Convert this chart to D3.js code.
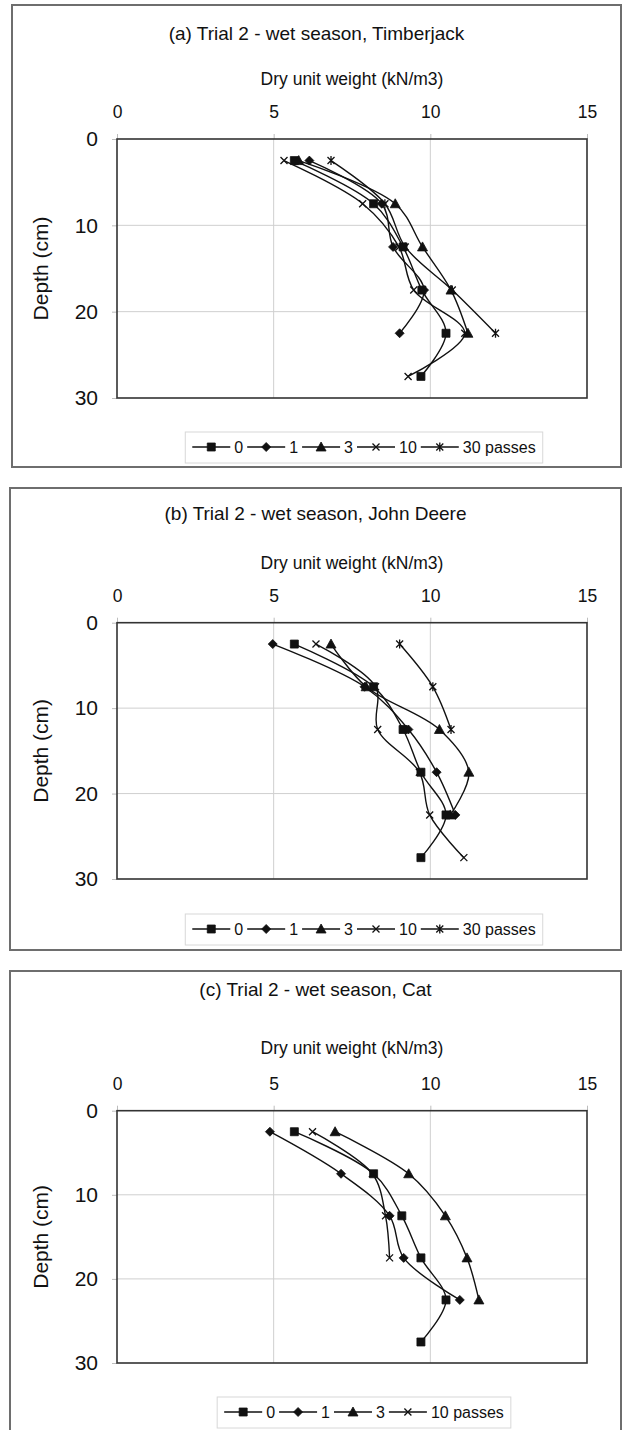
<!DOCTYPE html>
<html>
<head>
<meta charset="utf-8">
<script src="https://cdn.jsdelivr.net/npm/d3@7"></script>
<style>
  body { margin: 0; background: #fff; }
  svg { display: block; }
  text { font-family: "Liberation Sans", Arial, sans-serif; fill: #111; }
</style>
</head>
<body>
<svg id="chart" width="623" height="1430"></svg>
<script>
// depths of the sampled layers (cm)
var depthCm = [2.5, 7.5, 12.5, 17.5, 22.5, 27.5];
var xTicks = [0, 5, 10, 15];
var yTicks = [0, 10, 20, 30];
var passLabels = ["0", "1", "3", "10", "30"];

// (a) Timberjack - dry unit weight (kN/m3) per depth
var tj0  = [5.66, 8.19, 9.13, 9.73, 10.5, 9.7];
var tj1  = [6.14, 8.45, 8.81, 9.8, 9.02];
var tj3  = [5.8, 8.88, 9.75, 10.66, 11.2];
var tj10 = [5.33, 7.84, 9.0, 9.47, 11.1, 9.29];
var tj30 = [6.83, 8.55, 9.2, 10.7, 12.08];

// (b) John Deere
var jd0  = [5.66, 8.19, 9.13, 9.7, 10.5, 9.7];
var jd1  = [4.97, 7.9, 9.3, 10.2, 10.8];
var jd3  = [6.83, 7.95, 10.29, 11.23, 10.64];
var jd10 = [6.35, 8.25, 8.32, 9.65, 9.98, 11.07];
var jd30 = [9.02, 10.08, 10.66];

// (c) Cat
var cat0  = [5.66, 8.19, 9.09, 9.7, 10.5, 9.7];
var cat1  = [4.88, 7.15, 8.7, 9.15, 10.94];
var cat3  = [6.96, 9.31, 10.48, 11.17, 11.55];
var cat10 = [6.24, 8.15, 8.57, 8.7];

var panels = [
    {title: "(a) Trial 2 - wet season, Timberjack", series: [tj0, tj1, tj3, tj10, tj30],
     box: [12, 5, 609, 462], plot: [139, 398], titleY: 33, axisTitleY: 79, legendY: 447},
    {title: "(b) Trial 2 - wet season, John Deere", series: [jd0, jd1, jd3, jd10, jd30],
     box: [10, 488, 611, 462], plot: [622.7, 879], titleY: 513, axisTitleY: 563, legendY: 929},
    {title: "(c) Trial 2 - wet season, Cat", series: [cat0, cat1, cat3, cat10],
     box: [10, 971, 611, 475], plot: [1110.7, 1363], titleY: 989, axisTitleY: 1048, legendY: 1412}
];

var plotLeft = 117, plotRight = 587;

// marker shapes, one per number of passes
function markerPath(i) {
    switch (i) {
        case 0: return "M-4,-4H4V4H-4Z";
        case 1: return "M0,-4.5L4.5,0L0,4.5L-4.5,0Z";
        case 2: return "M0,-5L5,4L-5,4Z";
        case 3: return "M-3.5,-3.5L3.5,3.5M-3.5,3.5L3.5,-3.5";
        case 4: return "M-3.5,-3.5L3.5,3.5M-3.5,3.5L3.5,-3.5M0,-4.5V4.5";
    }
}
function drawMarker(g, i, cx, cy) {
    var filled = i < 3;
    g.append("path")
        .attr("d", markerPath(i))
        .attr("transform", "translate(" + cx + "," + cy + ")")
        .attr("fill", filled ? "#111" : "none")
        .attr("stroke", "#111")
        .attr("stroke-width", filled ? 0.8 : 1.3);
}

var svg = d3.select("#chart");

panels.forEach(function (p) {
    var g = svg.append("g");

    g.append("rect")
        .attr("x", p.box[0]).attr("y", p.box[1])
        .attr("width", p.box[2]).attr("height", p.box[3])
        .attr("fill", "#fff")
        .attr("stroke", "#6e6e6e")
        .attr("stroke-width", 2);

    var x = d3.scaleLinear().domain([0, 15]).range([plotLeft, plotRight]);
    var y = d3.scaleLinear().domain([0, 30]).range([p.plot[0], p.plot[1]]);

    // gridlines
    g.selectAll(".vgrid").data(xTicks.slice(1, -1)).enter().append("line")
        .attr("x1", function (d) { return x(d); }).attr("x2", function (d) { return x(d); })
        .attr("y1", y(0)).attr("y2", y(30))
        .attr("stroke", "#cfcfcf").attr("stroke-width", 1);
    g.selectAll(".hgrid").data(yTicks.slice(1, -1)).enter().append("line")
        .attr("x1", x(0)).attr("x2", x(15))
        .attr("y1", function (d) { return y(d); }).attr("y2", function (d) { return y(d); })
        .attr("stroke", "#cfcfcf").attr("stroke-width", 1);

    // axes
    var xAxis = g.append("g")
        .attr("transform", "translate(0," + y(0) + ")")
        .call(d3.axisTop(x).tickValues(xTicks).tickSize(5).tickPadding(16).tickSizeOuter(0));
    var yAxis = g.append("g")
        .attr("transform", "translate(" + x(0) + ",0)")
        .call(d3.axisLeft(y).tickValues(yTicks).tickSize(5).tickPadding(14).tickSizeOuter(0));
    [xAxis, yAxis].forEach(function (a) {
        a.select(".domain").remove();
        a.selectAll(".tick line").attr("stroke", "#bdbdbd");
        a.selectAll(".tick text").attr("fill", "#111");
    });
    xAxis.selectAll(".tick text").attr("font-size", "17.5px");
    yAxis.selectAll(".tick text").attr("font-size", "21px");

    g.append("rect")
        .attr("x", x(0)).attr("y", y(0))
        .attr("width", x(15) - x(0)).attr("height", y(30) - y(0))
        .attr("fill", "none")
        .attr("stroke", "#333")
        .attr("stroke-width", 1.6);

    // titles
    g.append("text")
        .attr("x", p.box[0] + p.box[2] / 2).attr("y", p.titleY)
        .attr("text-anchor", "middle").attr("dominant-baseline", "central")
        .attr("font-size", "19px")
        .text(p.title);
    g.append("text")
        .attr("x", (plotLeft + plotRight) / 2).attr("y", p.axisTitleY)
        .attr("text-anchor", "middle").attr("dominant-baseline", "central")
        .attr("font-size", "17.5px")
        .text("Dry unit weight (kN/m3)");
    g.append("text")
        .attr("transform", "translate(40," + (y(0) + y(30)) / 2 + ") rotate(-90)")
        .attr("text-anchor", "middle").attr("dominant-baseline", "central")
        .attr("font-size", "21px")
        .text("Depth (cm)");

    // smoothed profile lines
    var line = d3.line()
        .x(function (d) { return x(d.v); })
        .y(function (d) { return y(d.depth); })
        .curve(d3.curveCatmullRom.alpha(0.5));

    p.series.forEach(function (vals, i) {
        var pts = vals.map(function (v, k) { return {v: v, depth: depthCm[k]}; });
        g.append("path")
            .datum(pts)
            .attr("d", line)
            .attr("fill", "none")
            .attr("stroke", "#111")
            .attr("stroke-width", 1.4);
    });
    p.series.forEach(function (vals, i) {
        vals.forEach(function (v, k) {
            drawMarker(g, i, x(v), y(depthCm[k]));
        });
    });

    // legend
    var lg = g.append("g");
    var cursor = 0;
    var n = p.series.length;
    for (var i = 0; i < n; i++) {
        var label = passLabels[i] + (i === n - 1 ? " passes" : "");
        lg.append("line")
            .attr("x1", cursor).attr("x2", cursor + 38)
            .attr("y1", 0).attr("y2", 0)
            .attr("stroke", "#111").attr("stroke-width", 1.3);
        drawMarker(lg, i, cursor + 19, 0);
        var t = lg.append("text")
            .attr("x", cursor + 42).attr("y", 0)
            .attr("dominant-baseline", "central")
            .attr("font-size", "16px")
            .text(label);
        cursor += 42 + t.node().getComputedTextLength() + 4;
    }
    var w = cursor - 4;
    var cx = 364;
    lg.attr("transform", "translate(" + (cx - w / 2) + "," + p.legendY + ")");
    lg.insert("rect", ":first-child")
        .attr("x", -7).attr("y", -15)
        .attr("width", w + 14).attr("height", 31)
        .attr("fill", "#fff")
        .attr("stroke", "#d8d8d8")
        .attr("stroke-width", 1);
});
</script>
</body>
</html>
